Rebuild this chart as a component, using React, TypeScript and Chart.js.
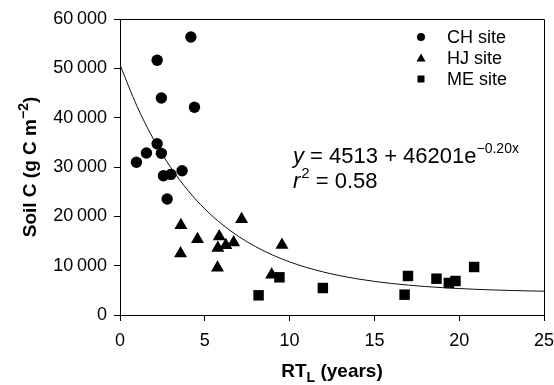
import React, { useEffect, useRef } from "react";
import { Chart, registerables } from "chart.js";

Chart.register(...registerables);

// CH site (circles)
const chRT = [0.97, 1.56, 2.19, 2.19, 2.44, 2.44, 2.56, 2.78, 3.0, 3.66, 4.18, 4.39];
const chC = [30950, 32840, 51630, 34720, 43990, 32770, 28240, 23500, 28510, 29250, 56350, 42100];
// HJ site (triangles)
const hjRT = [3.57, 3.59, 4.57, 5.75, 5.77, 5.85, 6.24, 6.7, 7.17, 8.94, 9.55];
const hjC = [12450, 18200, 15350, 9600, 13600, 15900, 14150, 14700, 19400, 8150, 14200];
// ME site (squares)
const meRT = [8.17, 9.4, 11.96, 16.78, 16.98, 18.66, 19.39, 19.78, 20.88];
const meC = [3990, 7640, 5470, 4120, 7910, 7360, 6490, 6890, 9730];
// Fitted curve
const fitRT = [0, 1, 2, 3, 4, 5, 6, 7, 8, 9, 10, 11, 12, 13, 14, 15, 16, 17, 18, 19, 20, 21, 22, 23, 24, 25];
const fitC = [50714, 42339, 35483, 29868, 25272, 21509, 18429, 15906, 13841, 12150, 10766, 9632, 8704, 7944, 7322, 6813, 6396, 6055, 5775, 5546, 5359, 5205, 5080, 4977, 4893, 4824];

const xTicks = [0, 5, 10, 15, 20, 25];
const yTicks = [0, 10000, 20000, 30000, 40000, 50000, 60000];

const legendLabels = ["CH site", "HJ site", "ME site"];
const legendStyles = ["circle", "triangle", "rect"];
const equationMain = " = 4513 + 46201e";
const equationExp = "\u22120.20x";
const r2Text = " = 0.58";

const FONT = "'Liberation Sans', Arial, sans-serif";

const toXY = (xs: number[], ys: number[]) => xs.map((x, i) => ({ x, y: ys[i] }));

const fmt = (v: number) => {
  if (v === 0) return "0";
  const s = String(v);
  return s.slice(0, s.length - 3) + "\u2009" + s.slice(s.length - 3);
};

const overlay = {
  id: "overlay",
  afterDraw(chart: any) {
    const ctx = chart.ctx as CanvasRenderingContext2D;
    const a = chart.chartArea;
    ctx.save();
    // frame top/right
    ctx.strokeStyle = "#000";
    ctx.lineWidth = 1;
    ctx.beginPath();
    ctx.moveTo(Math.round(a.left) + 0.5, Math.round(a.top) + 0.5);
    ctx.lineTo(Math.round(a.right) + 0.5, Math.round(a.top) + 0.5);
    ctx.lineTo(Math.round(a.right) + 0.5, Math.round(a.bottom) + 0.5);
    ctx.stroke();

    // legend
    ctx.fillStyle = "#000";
    const lx = 421;
    const ly = [37, 58, 79];
    legendLabels.forEach((lab, i) => {
      const y = ly[i];
      ctx.beginPath();
      const st = legendStyles[i];
      if (st === "circle") {
        ctx.arc(lx, y, 4, 0, Math.PI * 2);
      } else if (st === "triangle") {
        ctx.moveTo(lx, y - 4.5);
        ctx.lineTo(lx + 4.5, y + 3.5);
        ctx.lineTo(lx - 4.5, y + 3.5);
        ctx.closePath();
      } else {
        ctx.rect(lx - 3.5, y - 3.5, 7, 7);
      }
      ctx.fill();
      ctx.font = `18px ${FONT}`;
      ctx.textBaseline = "middle";
      ctx.textAlign = "left";
      ctx.fillText(lab, 447, y + 1);
    });

    // equation
    let ex = 293;
    const ey = 163;
    ctx.textBaseline = "alphabetic";
    ctx.font = `italic 22px ${FONT}`;
    ctx.fillText("y", ex, ey);
    ex += ctx.measureText("y").width;
    ctx.font = `22px ${FONT}`;
    ctx.fillText(equationMain, ex, ey);
    ex += ctx.measureText(equationMain).width;
    ctx.font = `14px ${FONT}`;
    ctx.fillText(equationExp, ex, ey - 10);

    let rx = 293;
    const ry = 188;
    ctx.font = `italic 22px ${FONT}`;
    ctx.fillText("r", rx, ry);
    rx += ctx.measureText("r").width + 1;
    ctx.font = `15px ${FONT}`;
    ctx.fillText("2", rx, ry - 10);
    rx += ctx.measureText("2").width;
    ctx.font = `22px ${FONT}`;
    ctx.fillText(r2Text, rx, ry);

    // x axis title
    const bold = `bold 19px ${FONT}`;
    const boldSmall = `bold 14px ${FONT}`;
    ctx.font = bold;
    const w1 = ctx.measureText("RT").width;
    const w3 = ctx.measureText(" (years)").width;
    ctx.font = boldSmall;
    const w2 = ctx.measureText("L").width;
    const total = w1 + w2 + w3;
    let tx = (a.left + a.right) / 2 - total / 2;
    const ty = 377;
    ctx.font = bold;
    ctx.fillText("RT", tx, ty);
    tx += w1;
    ctx.font = boldSmall;
    ctx.fillText("L", tx, ty + 5);
    tx += w2;
    ctx.font = bold;
    ctx.fillText(" (years)", tx, ty);

    // y axis title
    ctx.save();
    ctx.translate(36, (a.top + a.bottom) / 2);
    ctx.rotate(-Math.PI / 2);
    ctx.font = bold;
    const p1 = "Soil C (g C m";
    const p3 = ")";
    const s1 = ctx.measureText(p1).width;
    const s3 = ctx.measureText(p3).width;
    ctx.font = boldSmall;
    const sup = "\u22122";
    const s2 = ctx.measureText(sup).width;
    let yx = -(s1 + s2 + s3) / 2;
    ctx.font = bold;
    ctx.fillText(p1, yx, 0);
    yx += s1;
    ctx.font = boldSmall;
    ctx.fillText(sup, yx, -8);
    yx += s2;
    ctx.font = bold;
    ctx.fillText(p3, yx, 0);
    ctx.restore();

    ctx.restore();
  },
};

export default function App() {
  const ref = useRef<HTMLCanvasElement | null>(null);
  useEffect(() => {
    if (!ref.current) return;
    const chart = new Chart(ref.current, {
      type: "scatter",
      data: {
        datasets: [
          {
            label: "fit",
            type: "line",
            data: toXY(fitRT, fitC),
            borderColor: "#111",
            borderWidth: 1,
            pointRadius: 0,
            fill: false,
            cubicInterpolationMode: "monotone",
          } as any,
          {
            label: legendLabels[0],
            data: toXY(chRT, chC),
            pointStyle: "circle",
            pointRadius: 5.7,
            backgroundColor: "#000",
            borderColor: "#000",
            borderWidth: 0,
          },
          {
            label: legendLabels[1],
            data: toXY(hjRT, hjC),
            pointStyle: "triangle",
            pointRadius: 7.5,
            backgroundColor: "#000",
            borderColor: "#000",
            borderWidth: 0,
          },
          {
            label: legendLabels[2],
            data: toXY(meRT, meC),
            pointStyle: "rect",
            pointRadius: 7.4,
            backgroundColor: "#000",
            borderColor: "#000",
            borderWidth: 0,
          },
        ],
      },
      options: {
        responsive: false,
        animation: false,
        layout: { padding: { left: 0, top: 19, right: 10, bottom: 0 } },
        plugins: { legend: { display: false }, tooltip: { enabled: false } },
        scales: {
          x: {
            type: "linear",
            min: 0,
            max: 25,
            afterBuildTicks: (s: any) => {
              s.ticks = xTicks.map((v) => ({ value: v }));
            },
            afterFit: (s: any) => {
              s.height = 70;
              s.paddingLeft = 0;
              s.paddingRight = 0;
            },
            ticks: {
              color: "#000",
              font: { family: FONT, size: 18 },
              padding: 9,
              maxRotation: 0,
            },
            grid: {
              drawOnChartArea: false,
              drawTicks: true,
              tickLength: 6,
              tickColor: "#000",
              color: "#000",
            },
            border: { display: true, color: "#000", width: 1 },
          },
          y: {
            type: "linear",
            min: 0,
            max: 60000,
            afterBuildTicks: (s: any) => {
              s.ticks = yTicks.map((v) => ({ value: v }));
            },
            afterFit: (s: any) => {
              s.width = 120;
              s.paddingTop = 0;
              s.paddingBottom = 0;
            },
            ticks: {
              color: "#000",
              font: { family: FONT, size: 18 },
              padding: 7,
              callback: (v: any) => fmt(Number(v)),
            },
            grid: {
              drawOnChartArea: false,
              drawTicks: true,
              tickLength: 6,
              tickColor: "#000",
              color: "#000",
            },
            border: { display: true, color: "#000", width: 1 },
          },
        },
      },
      plugins: [overlay],
    });
    return () => chart.destroy();
  }, []);
  return (
    <div style={{ position: "fixed", left: 0, top: 0, width: 554, height: 385, background: "#fff" }}>
      <canvas ref={ref} width={554} height={385} style={{ display: "block" }} />
    </div>
  );
}
